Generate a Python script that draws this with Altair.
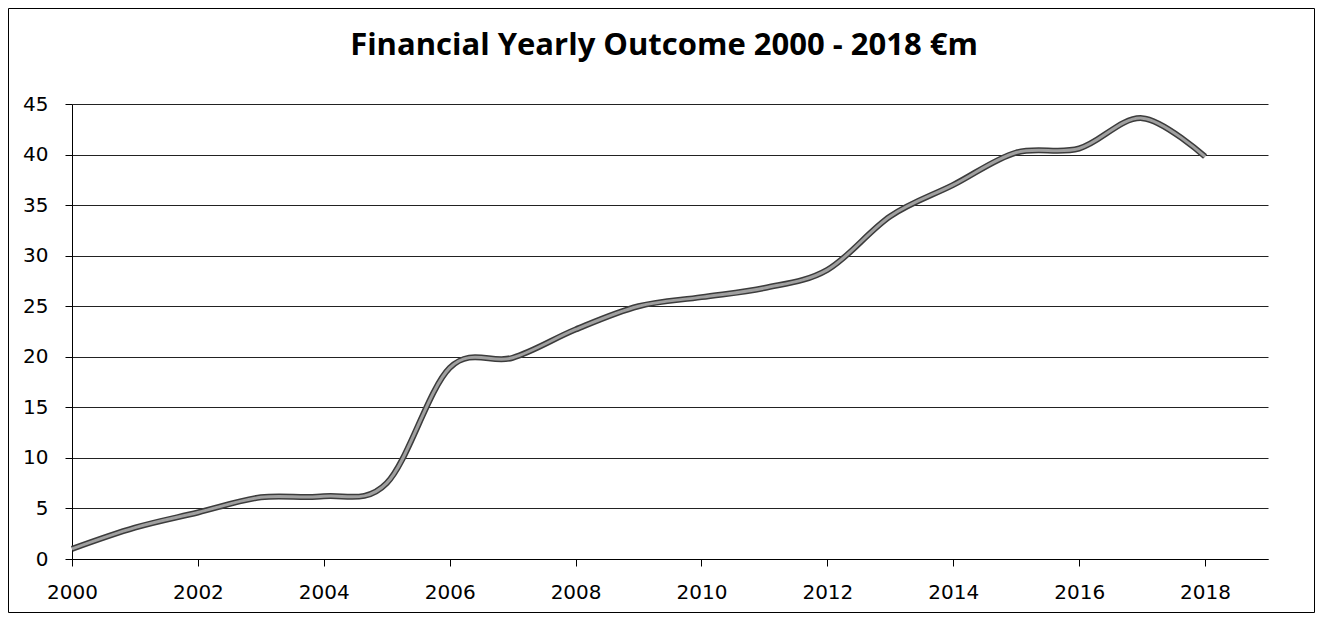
import altair as alt
import pandas as pd

years = list(range(2000, 2019))
values = [1.0, 3.1, 4.6, 6.1, 6.2, 7.5, 18.9, 19.9, 22.7, 25.0, 25.9, 26.8,
          28.6, 33.9, 37.0, 40.2, 40.6, 43.6, 39.8]
x_ticks = [2000, 2002, 2004, 2006, 2008, 2010, 2012, 2014, 2016, 2018]
y_ticks = [0, 5, 10, 15, 20, 25, 30, 35, 40, 45]
title_text = "Financial Yearly Outcome 2000 - 2018 €m"

df = pd.DataFrame({"year": years, "value": values})

FONT = "DejaVu Sans"
TFONT = "Open Sans"

x_enc = alt.X(
    "year:Q",
    scale=alt.Scale(domain=[2000, 2019], nice=False, zero=False),
    axis=alt.Axis(
        values=x_ticks, format="d", title=None, grid=False,
        labelFont=FONT, labelFontSize=20, labelColor="black",
        tickColor="black", tickSize=7, domainColor="black",
        labelPadding=16, labelFlush=False,
    ),
)
y_enc = alt.Y(
    "value:Q",
    scale=alt.Scale(domain=[0, 45], nice=False),
    axis=alt.Axis(
        values=y_ticks, title=None, grid=True, gridColor="#222222",
        gridWidth=1, gridOpacity=1,
        labelFont=FONT, labelFontSize=20, labelColor="black",
        tickColor="black", tickSize=7, domainColor="black",
        labelPadding=17,
    ),
)

base = alt.Chart(df)
outer = base.mark_line(interpolate="cardinal", color="#3c3c3c", strokeWidth=6).encode(x=x_enc, y=y_enc)
inner = base.mark_line(interpolate="cardinal", color="#a0a0a0", strokeWidth=3).encode(x="year:Q", y="value:Q")

border = alt.Chart(pd.DataFrame({"a": [0]})).mark_rect(
    filled=False, stroke="black", strokeWidth=1
).encode(
    x=alt.value(-63.5), x2=alt.value(1242.5),
    y=alt.value(-95.5), y2=alt.value(508.5),
)

chart = alt.layer(outer, inner, border).properties(
    width=1196,
    height=455,
    autosize=alt.AutoSizeParams(type="none"),
    padding={"left": 64, "top": 96, "right": 47, "bottom": 55},
    title=alt.TitleParams(
        text=title_text, font=TFONT, fontSize=31, fontWeight="bold",
        color="black", anchor="middle", dx=-6, dy=78, offset=0,
        baseline="alphabetic",
    ),
).configure_view(stroke=None)

chart.save("out.html", embed_options={"renderer": "svg", "actions": False})
